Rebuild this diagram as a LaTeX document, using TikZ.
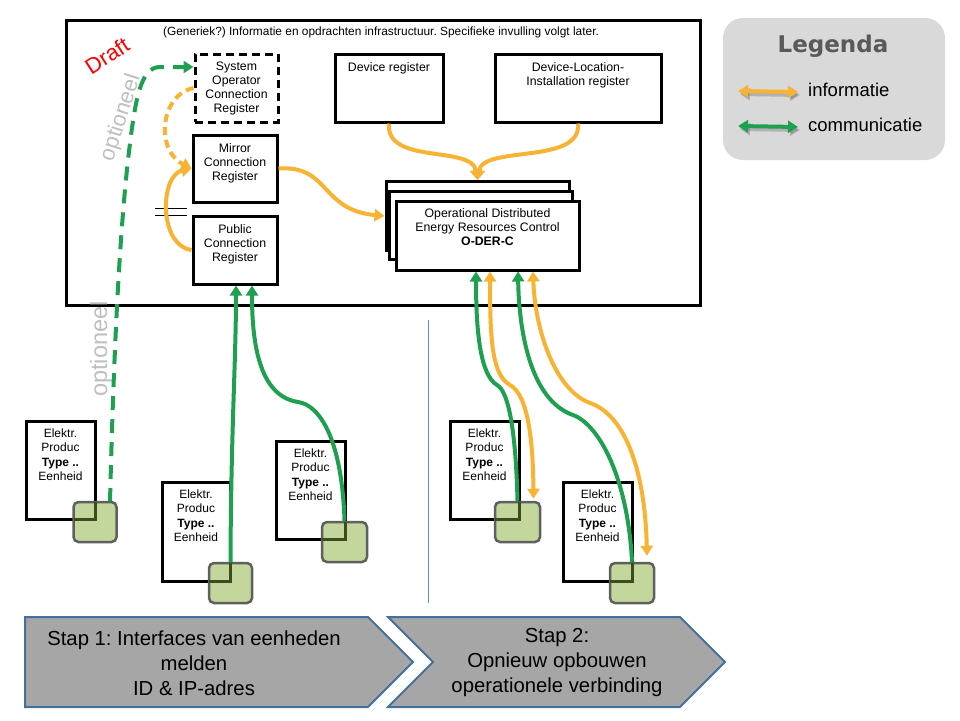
\documentclass[tikz,border=0pt]{standalone}
\usepackage{fontspec}
\setmainfont{Liberation Sans}
\newfontfamily\dejavu{DejaVu Sans}
\usetikzlibrary{arrows.meta,calc}
\frenchspacing
\definecolor{orng}{RGB}{248,178,52}
\definecolor{grn}{RGB}{30,160,80}
\definecolor{sqfill}{RGB}{195,214,155}
\definecolor{sqborder}{RGB}{95,95,95}
\definecolor{sqline}{RGB}{62,74,32}
\definecolor{chevfill}{RGB}{166,166,166}
\definecolor{chevborder}{RGB}{65,113,156}
\definecolor{legbg}{RGB}{217,217,217}
\definecolor{leghead}{RGB}{89,89,89}
\definecolor{opttxt}{RGB}{191,191,191}
\definecolor{sepline}{RGB}{110,140,165}
\tikzset{
  bx/.style={draw=black, line width=3pt, fill=white, inner sep=0pt},
  boxtxt/.style={font=\fontsize{12.3}{14}\selectfont, align=center, inner sep=0pt, anchor=north},
  unittxt/.style={font=\fontsize{12}{14.5}\selectfont, align=center, inner sep=0pt, anchor=north},
  sq/.style={draw=sqborder, line width=2.5pt, fill=sqfill, rounded corners=5pt, minimum width=43pt, minimum height=40pt, inner sep=0pt},
  cornerln/.style={draw=sqline, line width=3pt},
  tip/.tip={Triangle[length=10pt,width=12pt]},
  info/.style={draw=orng, line width=4pt, -tip},
  infoboth/.style={draw=orng, line width=4pt, tip-tip},
  comm/.style={draw=grn, line width=4pt, -tip},
  chev/.style={draw=chevborder, line width=2pt, fill=chevfill},
  chevtxt/.style={font=\fontsize{20.3}{25}\selectfont, align=center, inner sep=0pt},
  opt/.style={text=opttxt, font=\fontsize{22}{24}\selectfont, inner sep=0pt},
}
\begin{document}
\begin{tikzpicture}[x=1pt,y=-1pt]
\useasboundingbox (0,0) rectangle (960,720);

% main frame
\node[bx, minimum width=634pt, minimum height=285pt] (main) at (383,162.5) {};
\node[font=\fontsize{11.9}{13}\selectfont, inner sep=0pt] (title) at (381,32) {(Generiek?) Informatie en opdrachten infrastructuur. Specifieke invulling volgt later.};

% registers
\node[bx, dash pattern=on 8pt off 5pt, minimum width=83pt, minimum height=68pt] (socr) at (236.5,88) {};
\node[boxtxt] (socrt) at ([yshift=-9.5pt]socr.north) {System\\Operator\\Connection\\Register};
\node[bx, minimum width=84pt, minimum height=67pt] (mirror) at (235,168.5) {};
\node[boxtxt] (mirrort) at ([yshift=-9.5pt]mirror.north) {Mirror\\Connection\\Register};
\node[bx, minimum width=84pt, minimum height=68pt] (public) at (235,250) {};
\node[boxtxt] (publict) at ([yshift=-9.5pt]public.north) {Public\\Connection\\Register};
\node[bx, minimum width=108pt, minimum height=68pt] (devreg) at (389,88) {};
\node[boxtxt] (devregt) at ([yshift=-9.5pt]devreg.north) {Device register};
\node[bx, minimum width=166pt, minimum height=68pt] (dli) at (578,88) {};
\node[boxtxt] (dlit) at ([yshift=-9.5pt]dli.north) {Device-Location-\\Installation register};

% O-DER-C stack
\node[bx, minimum width=183pt, minimum height=69pt] (oderback) at (477.5,216) {};
\node[bx, minimum width=183pt, minimum height=68pt] (odermid) at (481,225) {};
\node[bx, minimum width=183pt, minimum height=69pt] (oder) at (487.5,235.5) {};
\node[boxtxt] (odert) at ([yshift=-8.5pt]oder.north) {Operational Distributed\\Energy Resources Control\\\textbf{O-DER-C}};

% double short lines
\coordinate (dl1a) at (155,208); \coordinate (dl1b) at (187,208);
\coordinate (dl2a) at (155,215); \coordinate (dl2b) at (187,215);
\draw[line width=1pt] (dl1a) -- (dl1b);
\draw[line width=1pt] (dl2a) -- (dl2b);

% labels
\node[text=red, font=\fontsize{22}{24}\selectfont, rotate=33, inner sep=0pt] (draft) at (107,56) {Draft};
\node[opt, rotate=72] (opt1) at (121,118) {optioneel};
\node[opt, rotate=90, font=\fontsize{23.5}{26}\selectfont] (opt2) at (101,349) {optioneel};

% separator
\coordinate (sepa) at (428,320); \coordinate (sepb) at (428,603);
\draw[sepline, line width=0.8pt] (sepa) -- (sepb);

% units
\node[bx, minimum width=69pt, minimum height=98pt] (u1) at (60.5,470) {};
\node[unittxt] (u1t) at ([yshift=-9pt]u1.north) {Elektr.\\Produc\\\textbf{Type ..}\\Eenheid};
\node[bx, minimum width=68pt, minimum height=99pt] (u2) at (196,531.5) {};
\node[unittxt] (u2t) at ([yshift=-9pt]u2.north) {Elektr.\\Produc\\\textbf{Type ..}\\Eenheid};
\node[bx, minimum width=69pt, minimum height=98pt] (u3) at (310.5,490) {};
\node[unittxt] (u3t) at ([yshift=-9pt]u3.north) {Elektr.\\Produc\\\textbf{Type ..}\\Eenheid};
\node[bx, minimum width=69pt, minimum height=98pt] (u4) at (484.5,470) {};
\node[unittxt] (u4t) at ([yshift=-9pt]u4.north) {Elektr.\\Produc\\\textbf{Type ..}\\Eenheid};
\node[bx, minimum width=69pt, minimum height=99pt] (u5) at (597.5,531.5) {};
\node[unittxt] (u5t) at ([yshift=-9pt]u5.north) {Elektr.\\Produc\\\textbf{Type ..}\\Eenheid};

% connectors inside frame
\draw[comm, dash pattern=on 14pt off 9pt] (110,502) .. controls (113,380) and (118,250) .. (128,160) .. controls (135,100) and (140,67) .. (160,67) -- ([yshift=21pt]socr.west);
\draw[info, dash pattern=on 8pt off 5pt] (socr.west) .. controls (160,95) and (155,150) .. (mirror.west);
\draw[info] (public.west) .. controls (158,245) and (160,175) .. (mirror.west);
\draw[info] (mirror.east) .. controls (330,165) and (320,210) .. (oderback.west);
\draw[info] (devreg.south) .. controls (385,165) and (472,145) .. (oderback.north);
\draw[info] (dli.south) .. controls (582,165) and (483,145) .. (oderback.north);

% squares with the unit corner visible through them
\node[sq] (s1) at (95,522) {};
\node[sq] (s2) at (230.5,583) {};
\node[sq, minimum width=45pt] (s3) at (344.5,542) {};
\node[sq, minimum width=45pt] (s4) at (517.5,522) {};
\node[sq, minimum width=44pt] (s5) at (632,583) {};
\foreach \u/\s in {u1/s1,u2/s2,u3/s3,u4/s4,u5/s5}{
  \coordinate (c\u) at ([xshift=-1.5pt,yshift=1.5pt]\u.south east);
  \draw[cornerln] ([yshift=-1.3pt]c\u |- \s.north) -- (c\u) -- ([xshift=1.3pt]c\u -| \s.west);
}

% connectors from units
\draw[comm] (s2.north) .. controls (231,430) and (236,360) .. ([xshift=1pt]public.south);
\draw[comm] (s3.north) .. controls (342,440) and (320,405) .. (298,402) .. controls (258,396) and (252,340) .. ([xshift=17pt]public.south);
\draw[comm] (s4.north) .. controls (516,440) and (510,392) .. (497,385) .. controls (480,375) and (476,330) .. ([xshift=-11.5pt]oder.south);
\draw[infoboth] ([xshift=2.5pt]oder.south) .. controls (490,340) and (492,375) .. (510,385) .. controls (528,395) and (533,440) .. ([xshift=16pt,yshift=2pt]s4.north);
\draw[comm] (s5.north) .. controls (628,480) and (600,425) .. (573,415) .. controls (530,400) and (519,330) .. ([xshift=30.5pt]oder.south);
\draw[infoboth] ([xshift=45.5pt]oder.south) .. controls (535,330) and (555,390) .. (590,403) .. controls (625,415) and (645,470) .. ([xshift=15pt,yshift=6pt]s5.north);

% legend
\node[fill=legbg, rounded corners=20pt, minimum width=222pt, minimum height=142pt, inner sep=0pt] (leg) at (834,89) {};
\node[text=leghead, font=\dejavu\bfseries\fontsize{23}{26}\selectfont, inner sep=0pt] (legt) at (833,46) {Legenda};
\coordinate (lo1) at (738,91); \coordinate (lo2) at (798,92);
\coordinate (lg1) at (738,126); \coordinate (lg2) at (798,127);
\coordinate (lo1s) at (740,94); \coordinate (lo2s) at (800,95);
\coordinate (lg1s) at (740,129); \coordinate (lg2s) at (800,130);
\draw[draw=black, opacity=0.18, line width=4pt, tip-tip] (lo1s) -- (lo2s);
\draw[draw=black, opacity=0.18, line width=4pt, tip-tip] (lg1s) -- (lg2s);
\draw[infoboth] (lo1) -- (lo2);
\draw[draw=grn, line width=4pt, tip-tip] (lg1) -- (lg2);
\node[anchor=west, font=\fontsize{18.5}{22}\selectfont, inner sep=0pt] (legi) at (808,90) {informatie};
\node[anchor=west, font=\fontsize{18.5}{22}\selectfont, inner sep=0pt] (legc) at (808,125) {communicatie};

% steps
\draw[chev] (25,617) -- (368,617) -- (413,662) -- (368,707) -- (25,707) -- cycle;
\node[chevtxt] (stap1) at (194,663) {Stap 1: Interfaces van eenheden\\melden\\ID \& IP-adres};
\draw[chev] (388,617) -- (680,617) -- (725,662) -- (680,707) -- (388,707) -- (433,662) -- cycle;
\node[chevtxt] (stap2) at (557,663) {Stap 2:\\Opnieuw opbouwen\\operationele verbinding};
\end{tikzpicture}
\end{document}
